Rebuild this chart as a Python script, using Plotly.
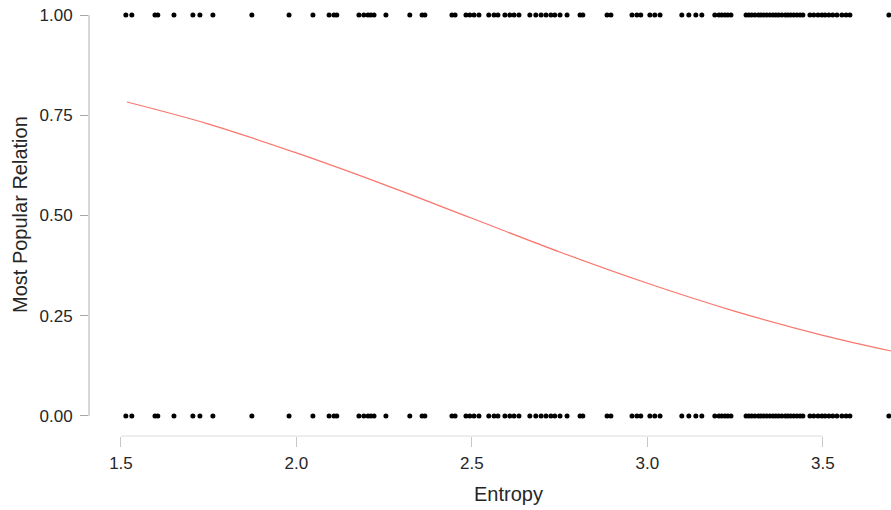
import plotly.graph_objects as go

# Entropy values of observations (same positions appear in both outcome rows)
entropy = [1.514, 1.531, 1.597, 1.605, 1.651, 1.705, 1.725, 1.762, 1.873, 1.979,
           2.047, 2.093, 2.107, 2.115, 2.178, 2.192, 2.204, 2.212, 2.221, 2.255,
           2.323, 2.358, 2.366, 2.443, 2.452, 2.483, 2.494, 2.506, 2.520, 2.548,
           2.563, 2.574, 2.594, 2.608, 2.620, 2.634, 2.665, 2.682, 2.697, 2.711,
           2.725, 2.736, 2.751, 2.771, 2.808, 2.816, 2.885, 2.896, 2.956, 2.970,
           2.981, 3.007, 3.021, 3.036, 3.098, 3.118, 3.138, 3.155, 3.192, 3.204,
           3.212, 3.221, 3.229, 3.238, 3.281, 3.289, 3.297, 3.306, 3.316, 3.323,
           3.331, 3.340, 3.349, 3.358, 3.366, 3.374, 3.383, 3.393, 3.400, 3.408,
           3.417, 3.426, 3.435, 3.443, 3.463, 3.474, 3.486, 3.497, 3.506, 3.517,
           3.528, 3.540, 3.554, 3.566, 3.577, 3.688]
outcome_one = [1] * len(entropy)
outcome_zero = [0] * len(entropy)

# Fitted probability curve
curve_x = [1.517, 1.75, 2.0, 2.25, 2.5, 2.75, 3.0, 3.25, 3.5, 3.694]
curve_y = [0.783, 0.728, 0.656, 0.577, 0.493, 0.409, 0.331, 0.261, 0.201, 0.162]

x_ticks = [1.5, 2.0, 2.5, 3.0, 3.5]
x_tick_labels = ["1.5", "2.0", "2.5", "3.0", "3.5"]
y_ticks = [0, 0.25, 0.5, 0.75, 1.0]
y_tick_labels = ["0.00", "0.25", "0.50", "0.75", "1.00"]

font_family = "Liberation Sans, Arial, sans-serif"
text_color = "#262626"

fig = go.Figure()
fig.add_trace(go.Scatter(x=entropy, y=outcome_one, mode="markers",
                         marker=dict(color="black", size=5), showlegend=False))
fig.add_trace(go.Scatter(x=entropy, y=outcome_zero, mode="markers",
                         marker=dict(color="black", size=5), showlegend=False))
fig.add_trace(go.Scatter(x=curve_x, y=curve_y, mode="lines", line_shape="spline",
                         line=dict(color="#F8766D", width=1.2), showlegend=False))

fig.update_layout(
    width=891, height=510,
    margin=dict(l=89, r=0, t=0, b=74),
    paper_bgcolor="white", plot_bgcolor="white",
    font=dict(family=font_family, color=text_color, size=17),
    xaxis=dict(range=[1.409, 3.694], tickvals=x_ticks, ticktext=x_tick_labels,
               ticks="outside", ticklen=10, tickcolor="#c8c8c8", tickwidth=1,
               showgrid=False, zeroline=False, showline=False,
               ticklabelstandoff=2,
               tickfont=dict(size=17, family=font_family, color=text_color)),
    yaxis=dict(range=[-0.0499, 1.0374], tickvals=y_ticks, ticktext=y_tick_labels,
               ticks="outside", ticklen=8, tickcolor="#a6a6a6", tickwidth=1,
               showgrid=False, zeroline=False, showline=False,
               ticklabelstandoff=4,
               tickfont=dict(size=17, family=font_family, color=text_color)),
    shapes=[
        dict(type="line", xref="x", yref="paper", x0=1.5, x1=3.5, y0=0, y1=0,
             line=dict(color="#dcdcdc", width=1)),
        dict(type="line", xref="paper", yref="y", x0=0, x1=0, y0=0, y1=1,
             line=dict(color="#b0b0b0", width=1)),
    ],
    annotations=[
        dict(text="Entropy", xref="paper", yref="paper", x=(508 - 89) / 802,
             y=-58 / 436, xanchor="center", yanchor="middle", showarrow=False,
             font=dict(size=20, family=font_family, color=text_color)),
        dict(text="Most Popular Relation", xref="paper", yref="paper",
             x=-69 / 802, y=(436 - 215) / 436, xanchor="center", yanchor="middle",
             textangle=-90, showarrow=False,
             font=dict(size=20, family=font_family, color=text_color)),
    ],
)

fig.write_html("out.html")
